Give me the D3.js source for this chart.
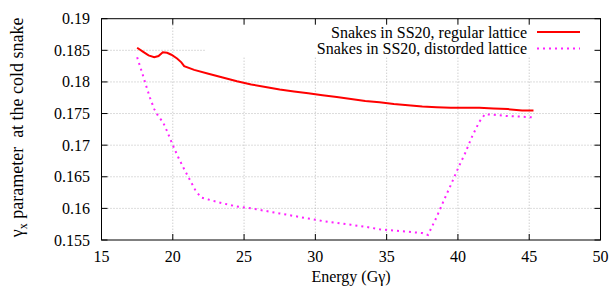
<!DOCTYPE html>
<html>
<head>
<meta charset="utf-8">
<script src="https://cdn.jsdelivr.net/npm/d3@7"></script>
<style>
  body { margin: 0; background: #fff; }
</style>
</head>
<body>
<svg id="chart" width="611" height="290"></svg>
<script>
// regular lattice
const regE = [17.5, 17.9, 18.3, 18.7, 19.0, 19.3, 19.6, 19.9, 20.3, 20.6, 20.8, 21.5, 22.5, 23.5, 24.5, 25.5, 26.5, 27.5, 28.5, 29.5, 30.5, 31.5, 32.5, 33.5, 34.5, 35.5, 36.5, 37.5, 38.5, 39.5, 40.5, 41.5, 42.5, 43.5, 44.5, 45.3];
const regV = [0.1854, 0.1848, 0.1842, 0.1839, 0.1841, 0.1847, 0.1846, 0.1843, 0.1837, 0.1831, 0.1825, 0.1819, 0.1813, 0.1807, 0.1801, 0.1796, 0.1792, 0.1788, 0.1785, 0.1782, 0.1779, 0.1776, 0.1773, 0.1770, 0.1768, 0.1765, 0.1763, 0.1761, 0.1760, 0.1759, 0.1759, 0.1759, 0.1758, 0.1757, 0.1755, 0.1755];

// distorded lattice
const disE = [17.5, 17.8, 18.1, 18.4, 18.7, 19.0, 19.3, 19.6, 20.0, 20.4, 20.8, 21.2, 21.6, 22.0, 22.5, 23.5, 24.5, 25.5, 26.5, 27.5, 28.5, 29.5, 30.5, 31.5, 32.5, 33.5, 34.5, 35.5, 36.5, 37.5, 37.9, 38.5, 39.0, 39.5, 40.0, 40.5, 41.0, 41.5, 41.9, 42.5, 43.5, 44.5, 45.3];
const disV = [0.1839, 0.1818, 0.1796, 0.1775, 0.1757, 0.1745, 0.1737, 0.1722, 0.1700, 0.1680, 0.1662, 0.1645, 0.1628, 0.1617, 0.1614, 0.1608, 0.1603, 0.1600, 0.1596, 0.1592, 0.1588, 0.1584, 0.1580, 0.1577, 0.1574, 0.1571, 0.1567, 0.1565, 0.1563, 0.1561, 0.1558, 0.1586, 0.1612, 0.1637, 0.1663, 0.1687, 0.1714, 0.1737, 0.1749, 0.1748, 0.1746, 0.1745, 0.1744];

const xTicks = [15, 20, 25, 30, 35, 40, 45, 50];
const yTicks = [0.155, 0.16, 0.165, 0.17, 0.175, 0.18, 0.185, 0.19];
const legendLabels = ["Snakes in SS20, regular lattice", "Snakes in SS20, distorded lattice"];

const FONT = "Liberation Serif";
const svg = d3.select("#chart");
const m = { left: 101.5, right: 600.5, top: 18.7, bottom: 240 };

const x = d3.scaleLinear().domain([15, 50]).range([m.left, m.right]);
const y = d3.scaleLinear().domain([0.155, 0.19]).range([m.bottom, m.top]);

// grid
const grid = svg.append("g")
  .attr("stroke", "#a8a8a8")
  .attr("stroke-width", 0.8)
  .attr("stroke-dasharray", "1,2");
grid.selectAll(".gx").data(xTicks.slice(1, -1)).enter().append("line")
  .attr("x1", d => x(d)).attr("x2", d => x(d))
  .attr("y1", m.top).attr("y2", m.bottom);
grid.selectAll(".gy").data(yTicks.slice(1, -1)).enter().append("line")
  .attr("x1", m.left).attr("x2", m.right)
  .attr("y1", d => y(d)).attr("y2", d => y(d));

// legend box blanks the grid (gnuplot style)
svg.append("rect")
  .attr("x", 206).attr("y", m.top + 1)
  .attr("width", m.right - 207).attr("height", 37)
  .attr("fill", "#fff");

// ticks on all four sides, pointing inward
const tk = 6;
const ticks = svg.append("g").attr("stroke", "#000").attr("stroke-width", 1);
xTicks.forEach(d => {
  ticks.append("line").attr("x1", x(d)).attr("x2", x(d)).attr("y1", m.bottom).attr("y2", m.bottom - tk);
  ticks.append("line").attr("x1", x(d)).attr("x2", x(d)).attr("y1", m.top).attr("y2", m.top + tk);
});
yTicks.forEach(d => {
  ticks.append("line").attr("x1", m.left).attr("x2", m.left + tk).attr("y1", y(d)).attr("y2", y(d));
  ticks.append("line").attr("x1", m.right).attr("x2", m.right - tk).attr("y1", y(d)).attr("y2", y(d));
});

// tick labels
svg.append("g").selectAll("text").data(xTicks).enter().append("text")
  .attr("x", d => x(d)).attr("y", 262)
  .attr("text-anchor", "middle").attr("font-size", 16).attr("font-family", FONT)
  .text(d => d);
svg.append("g").selectAll("text").data(yTicks).enter().append("text")
  .attr("x", 90).attr("y", d => y(d) + 5.5)
  .attr("text-anchor", "end").attr("font-size", 16).attr("font-family", FONT)
  .text(d => d3.format("")(d));

// axis titles
svg.append("text")
  .attr("x", 351).attr("y", 282)
  .attr("text-anchor", "middle").attr("font-size", 16).attr("font-family", FONT)
  .text("Energy (Gγ)");

const yl = svg.append("text")
  .attr("transform", `translate(23,${(m.top + m.bottom) / 2 - 2}) rotate(-90)`)
  .attr("text-anchor", "middle").attr("font-size", 18).attr("font-family", FONT);
yl.append("tspan").text("γ");
yl.append("tspan").attr("font-size", 12).attr("dy", 4).text("x");
yl.append("tspan").attr("dy", -4).attr("xml:space", "preserve").text(" parameter  at the cold snake");

// curves
const line = d3.line().x(d => x(d[0])).y(d => y(d[1]));
svg.append("path")
  .datum(regE.map((e, i) => [e, regV[i]]))
  .attr("d", line)
  .attr("fill", "none").attr("stroke", "#ff0000").attr("stroke-width", 2);
svg.append("path")
  .datum(disE.map((e, i) => [e, disV[i]]))
  .attr("d", line)
  .attr("fill", "none").attr("stroke", "#ff22ff").attr("stroke-width", 2)
  .attr("stroke-dasharray", "2,4");

// legend
const lg = svg.append("g");
const styles = [
  { stroke: "#ff0000", dash: null },
  { stroke: "#ff22ff", dash: "2,4" }
];
legendLabels.forEach((t, i) => {
  const ly = 32 + i * 16.5;
  lg.append("text").attr("x", 527).attr("y", ly + 5.5)
    .attr("text-anchor", "end").attr("font-size", 16).attr("font-family", FONT).text(t);
  lg.append("line").attr("x1", 537).attr("x2", 580).attr("y1", ly).attr("y2", ly)
    .attr("stroke", styles[i].stroke).attr("stroke-width", 2)
    .attr("stroke-dasharray", styles[i].dash);
});

// frame
svg.append("rect")
  .attr("x", m.left).attr("y", m.top)
  .attr("width", m.right - m.left).attr("height", m.bottom - m.top)
  .attr("fill", "none").attr("stroke", "#000").attr("stroke-width", 1);
</script>
</body>
</html>
